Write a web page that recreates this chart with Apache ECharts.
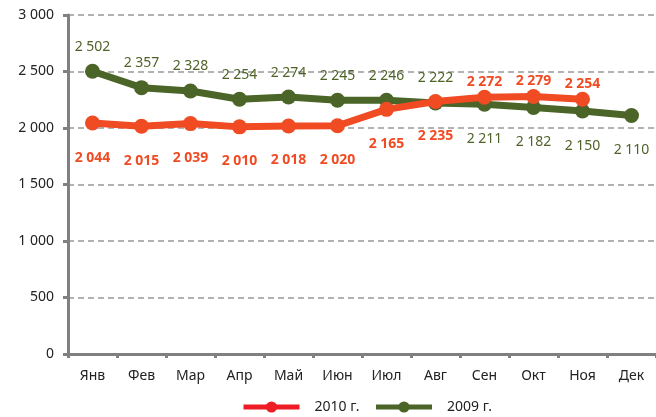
<!DOCTYPE html>
<html><head><meta charset="utf-8">
<script src="https://cdn.jsdelivr.net/npm/echarts@6/dist/echarts.min.js"></script>
<style>html,body{margin:0;padding:0;background:#fff}#c{width:656px;height:417px}</style>
</head><body><div id="c"></div>
<script>
const categories = ['Янв','Фев','Мар','Апр','Май','Июн','Июл','Авг','Сен','Окт','Ноя','Дек'];
const values2010 = [2044, 2015, 2039, 2010, 2018, 2020, 2165, 2235, 2272, 2279, 2254];
const values2009 = [2502, 2357, 2328, 2254, 2274, 2245, 2246, 2222, 2211, 2182, 2150, 2110];
const labelPos2010 = ['bottom','bottom','bottom','bottom','bottom','bottom','bottom','bottom','top','top','top'];
const labelPos2009 = ['top','top','top','top','top','top','top','top','bottom','bottom','bottom','bottom'];

const fmt = v => { const s = String(Math.round(v)); return s.length > 3 ? s.slice(0, s.length-3) + ' ' + s.slice(-3) : s; };
const FONT = 'Noto Sans';
const RED = '#F04B23', GREEN = '#4B6427';

const chart = echarts.init(document.getElementById('c'));
chart.setOption({
  animation: false,
  textStyle: { fontFamily: FONT },
  grid: { left: 68, top: 15, width: 592, height: 339 },
  legend: {
    top: 395, left: 236, itemWidth: 56, itemHeight: 14, itemGap: 14,
    textStyle: { fontFamily: FONT, fontSize: 14, color: '#222', padding: [0, 0, 0, 10] },
    data: [
      { name: '2010 г.', itemStyle: { color: '#EE1C25' }, lineStyle: { color: '#EE1C25', width: 5 } },
      { name: '2009 г.', itemStyle: { color: GREEN }, lineStyle: { color: GREEN, width: 5 } }
    ]
  },
  xAxis: {
    type: 'category', data: categories, boundaryGap: true,
    axisLine: { lineStyle: { color: '#808080', width: 3 } },
    axisTick: { show: true, length: 4, lineStyle: { color: '#808080', width: 3 } },
    axisLabel: { color: '#222', fontSize: 14, margin: 15, fontFamily: FONT }
  },
  yAxis: {
    type: 'value', min: 0, max: 3000, interval: 500,
    axisLine: { show: true, lineStyle: { color: '#808080', width: 3 } },
    axisTick: { show: true, length: 5, lineStyle: { color: '#808080', width: 3 } },
    axisLabel: { color: '#222', fontSize: 14, margin: 14, formatter: fmt, fontFamily: FONT },
    splitLine: { show: true, lineStyle: { color: '#999', width: 1.5, type: [6, 4] } }
  },
  series: [
    {
      name: '2010 г.', type: 'line', z: 3,
      data: values2010.map((v, i) => ({
        value: v,
        label: { position: labelPos2010[i], distance: labelPos2010[i] === 'top' ? 1 : 20 }
      })),
      symbol: 'circle', symbolSize: 15,
      lineStyle: { color: RED, width: 7 }, itemStyle: { color: RED },
      label: { show: true, formatter: p => fmt(p.value), color: RED, fontWeight: 'bold', fontSize: 14, fontFamily: FONT }
    },
    {
      name: '2009 г.', type: 'line', z: 2,
      data: values2009.map((v, i) => ({
        value: v,
        label: { position: labelPos2009[i], distance: labelPos2009[i] === 'top' ? 10 : 20 }
      })),
      symbol: 'circle', symbolSize: 15,
      lineStyle: { color: GREEN, width: 7 }, itemStyle: { color: GREEN },
      label: { show: true, formatter: p => fmt(p.value), color: '#4F6228', fontSize: 14, fontFamily: FONT }
    }
  ]
});
</script></body></html>
